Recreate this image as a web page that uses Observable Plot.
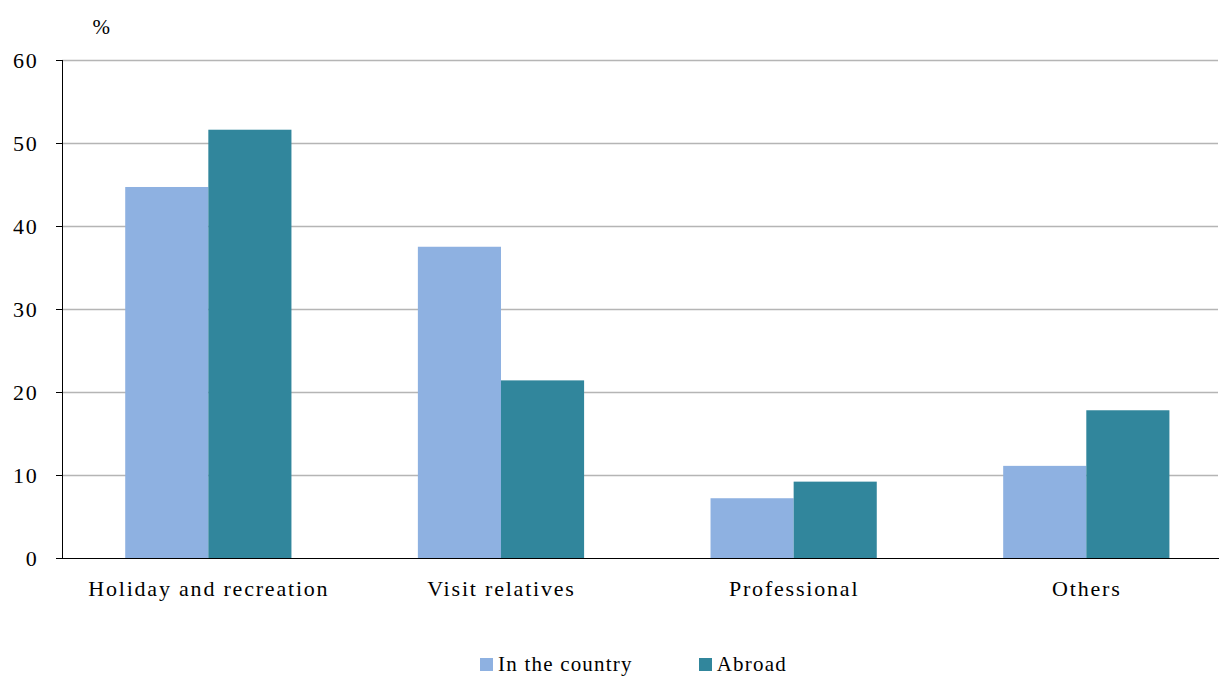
<!DOCTYPE html>
<html><head><meta charset="utf-8">
<script src="https://cdn.jsdelivr.net/npm/d3@7"></script>
<script src="https://cdn.jsdelivr.net/npm/@observablehq/plot@0.6"></script>
<style>
body{margin:0;background:#fff;font-family:"Liberation Serif",serif;}
svg text{letter-spacing:1.8px}
#legend{display:flex;justify-content:center;gap:66px;font-size:21px;letter-spacing:1.2px;margin-top:32px;margin-left:46px}
#legend span{display:inline-flex;align-items:center;gap:5px}
#legend i{display:inline-block;width:13px;height:13px}
</style></head>
<body><div id="chart"></div>
<script>
const categories = ["Holiday and recreation", "Visit relatives", "Professional", "Others"];
const series = ["In the country", "Abroad"];
const inCountry = [44.7, 37.5, 7.2, 11.1];
const abroad = [51.6, 21.4, 9.2, 17.8];
const yTicks = [0, 10, 20, 30, 40, 50, 60];
const colors = ["#8eb1e1", "#31869c"];

const barHalf = 0.284;
const rows = categories.flatMap((c, i) => [
  {i, s: series[0], v: inCountry[i], x1: i - barHalf, x2: i},
  {i, s: series[1], v: abroad[i], x1: i, x2: i + barHalf}
]);

const plot = Plot.plot({
  width: 1221, height: 620,
  marginTop: 60, marginLeft: 62, marginRight: 3, marginBottom: 62,
  style: {fontFamily: "Liberation Serif, serif", fontSize: "22px", color: "#000"},
  x: {domain: [-0.5, 3.45], label: null},
  y: {domain: [0, 60], label: null},
  color: {domain: series, range: colors},
  marks: [
    Plot.gridY(yTicks.filter(t => t > 0), {stroke: "#b5b5b5", strokeOpacity: 1, strokeWidth: 1.5}),
    Plot.rectY(rows, {x1: "x1", x2: "x2", y1: 0, y2: "v", fill: "s"}),
    Plot.axisY({ticks: yTicks, tickSize: 6, tickPadding: 18, label: null, fontSize: 22}),
    Plot.axisX({ticks: [0, 1, 2, 3], tickFormat: i => categories[i], tickSize: 0, tickPadding: 22, label: null, fontSize: 22}),
    Plot.frame({anchor: "left", stroke: "#000"}),
    Plot.frame({anchor: "bottom", stroke: "#000"}),
    Plot.text(["%"], {frameAnchor: "top-left", dx: 30, dy: -41, fontSize: 21})
  ]
});
document.getElementById("chart").append(plot);

const leg = document.createElement("div");
leg.id = "legend";
leg.innerHTML = series.map((s, i) => `<span><i style="background:${colors[i]}"></i>${s}</span>`).join("");
document.body.append(leg);
</script></body></html>
